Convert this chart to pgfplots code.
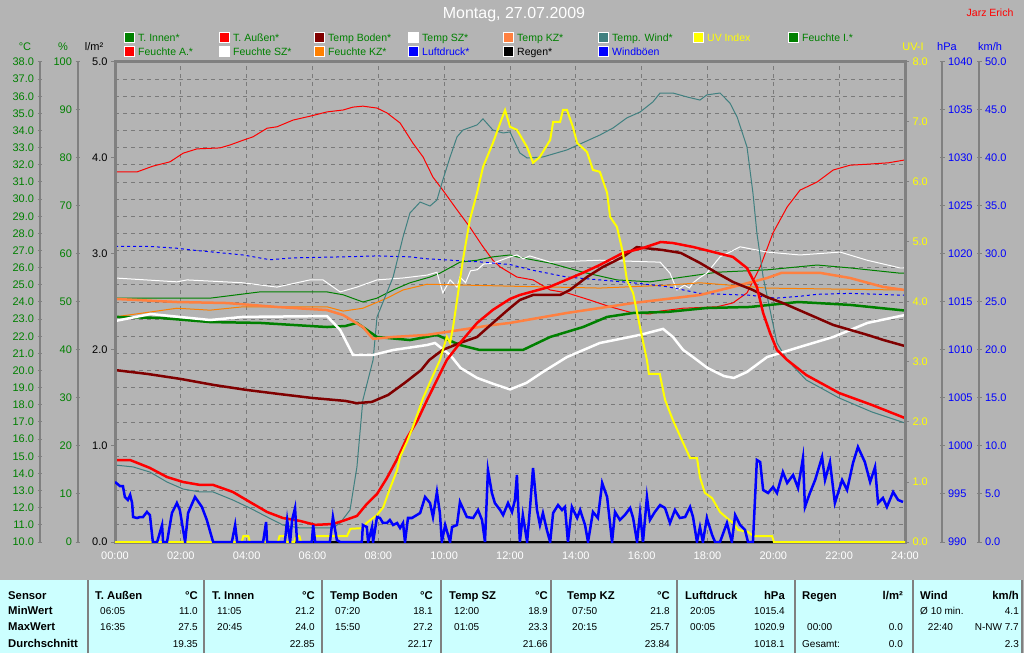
\documentclass[border=0pt]{standalone}
\usepackage{pgfplots}
\pgfplotsset{compat=1.18}
\usepackage{fontspec}
\setmainfont{Liberation Sans}

\definecolor{bgc}{HTML}{B4B4B4}
\definecolor{framec}{HTML}{808080}
\definecolor{gridc}{HTML}{7A7A7A}
\definecolor{tcyan}{HTML}{CCFFFF}
\definecolor{dgreen}{HTML}{008000}
\definecolor{maroonc}{HTML}{800000}
\definecolor{coralc}{HTML}{FF8040}
\definecolor{orangec}{HTML}{FF8000}
\definecolor{tealc}{HTML}{408080}
\definecolor{yellowc}{HTML}{FFFF00}
\definecolor{bluec}{HTML}{0000FF}
\definecolor{redc}{HTML}{FF0000}

\newcommand{\lf}{\fontsize{10.5}{12}\selectfont}
\newcommand{\tf}{\fontsize{11}{13}\selectfont}
\newcommand{\vf}{\fontsize{10}{12}\selectfont}
\newcommand{\tb}{\fontsize{11.3}{13}\selectfont\bfseries}

\pgfplotsset{
  plotarea/.style={at={(115pt,111pt)}, anchor=south west, scale only axis,
    width=790pt, height=480pt, xmin=0, xmax=24},
  scaleaxis/.style={anchor=south west, scale only axis, width=1pt, height=480pt,
    xmin=0, xmax=1, axis x line=none,
    y axis line style={-, draw=framec, line width=1.5pt},
    every non boxed y axis/.append style={y axis line style={-}},
    tick style={draw=framec, line width=1pt}, major tick length=5pt, tick align=outside,
    /pgf/number format/assume math mode=true, /pgf/number format/1000 sep={},
    yticklabel style={font=\tf}},
  hum/.style={line width=1pt, no marks},
  tmp/.style={line width=2.5pt, no marks},
}

\newcommand{\legitem}[5]{%
  \fill[#3] (#1pt-5pt,#2pt-5pt) rectangle (#1pt+5pt,#2pt+5pt);
  \draw[white, line width=0.8pt] (#1pt-5pt,#2pt-5pt) rectangle (#1pt+5pt,#2pt+5pt);
  \node[anchor=base west, text=#4, font=\lf, inner sep=0pt] at (#1pt+9pt,#2pt-4pt) {#5};}

% table column: header-left, right, header, unit, t1, v1, t2, v2, avg
\newcommand{\tcol}[9]{%
  \node[anchor=base west, font=\tb, inner sep=0pt] at (#1pt,53.3pt) {#3};
  \node[anchor=base east, font=\tb, inner sep=0pt] at (#2pt,53.3pt) {#4};
  \node[anchor=base west, font=\vf, inner sep=0pt] at (#1pt+5pt,39pt) {#5};
  \node[anchor=base east, font=\vf, inner sep=0pt] at (#2pt,39pt) {#6};
  \node[anchor=base west, font=\vf, inner sep=0pt] at (#1pt+5pt,22.3pt) {#7};
  \node[anchor=base east, font=\vf, inner sep=0pt] at (#2pt,22.3pt) {#8};
  \node[anchor=base east, font=\vf, inner sep=0pt] at (#2pt,5.7pt) {#9};}

\begin{document}
\begin{tikzpicture}
\fill[bgc] (0,0) rectangle (1024pt,653pt);
\useasboundingbox (0,0) rectangle (1024pt,653pt);

% titles
\node[text=white, font=\fontsize{16}{18}\selectfont] at (514pt,638pt) {Montag, 27.07.2009};
\node[text=redc, font=\lf] at (990pt,640pt) {Jarz Erich};

% units
\node[text=dgreen, font=\tf] at (25pt,606pt) {°C};
\node[text=dgreen, font=\tf] at (63pt,606pt) {\%};
\node[text=black, font=\tf] at (94pt,606pt) {l/m²};
\node[text=yellowc, font=\tf] at (913pt,606pt) {UV-I};
\node[text=bluec, font=\tf] at (947pt,606pt) {hPa};
\node[text=bluec, font=\tf] at (990pt,606pt) {km/h};

% legend
\legitem{129}{615.5}{dgreen}{dgreen}{T. Innen*}
\legitem{224}{615.5}{redc}{dgreen}{T. Außen*}
\legitem{319}{615.5}{maroonc}{dgreen}{Temp Boden*}
\legitem{413}{615.5}{white}{dgreen}{Temp SZ*}
\legitem{508}{615.5}{coralc}{dgreen}{Temp KZ*}
\legitem{603}{615.5}{tealc}{dgreen}{Temp. Wind*}
\legitem{698}{615.5}{yellowc}{yellowc}{UV Index}
\legitem{793}{615.5}{dgreen}{dgreen}{Feuchte I.*}
\legitem{129}{601.5}{redc}{dgreen}{Feuchte A.*}
\legitem{224}{601.5}{white}{dgreen}{Feuchte SZ*}
\legitem{319}{601.5}{orangec}{dgreen}{Feuchte KZ*}
\legitem{413}{601.5}{bluec}{bluec}{Luftdruck*}
\legitem{508}{601.5}{black}{black}{Regen*}
\legitem{603}{601.5}{bluec}{bluec}{Windböen}

% grid and frame
\begin{axis}[plotarea, ymin=10, ymax=38,
  xtick={0,2,...,24},
  xticklabels={00:00,02:00,04:00,06:00,08:00,10:00,12:00,14:00,16:00,18:00,20:00,22:00,24:00},
  xticklabel style={text=white, font=\tf, yshift=-6pt},
  ytick={10,11,...,38}, yticklabel=\empty,
  grid=major, major grid style={draw=gridc, line width=0.8pt, dash pattern=on 4pt off 4pt},
  axis line style={draw=framec, line width=3pt},
  tick style={draw=none}]
\addplot[draw=none] coordinates {(0,10) (24,38)};
\end{axis}

% humidity (%)
\begin{axis}[plotarea, ymin=0, ymax=100, hide axis]
\addplot[hum, redc] coordinates {(0,77.1) (0.67,77.1) (1.15,78.3) (1.67,79.2) (2.07,81.0) (2.49,81.9) (3.19,82.1) (3.49,82.7) (3.89,83.7) (4.19,84.4) (4.62,86.2) (4.92,86.5) (5.41,87.9) (5.92,88.7) (6.44,89.6) (6.93,90.0) (7.23,90.6) (7.53,90.8) (7.96,90.4) (8.26,89.4) (8.66,87.3) (9.05,83.1) (9.36,80.2) (9.66,76.0) (9.96,73.3) (10.39,69.2) (10.78,65.6) (11.18,61.5) (11.48,58.7) (11.7,57.3) (12.21,55.2) (12.7,54.6) (13.22,52.5) (13.73,51.9) (14.43,50.4) (15.04,49.0) (15.74,47.7) (16.25,47.5) (16.56,48.1) (17.26,48.7) (18.29,49.0) (18.77,49.8) (19.2,51.9) (19.6,57.3) (19.99,64.4) (20.42,69.8) (20.81,73.3) (21.33,75.0) (21.82,77.5) (22.33,78.5) (22.85,78.7) (23.5,79.0) (24,79.6)};
\addplot[hum, dgreen] coordinates {(0,50.8) (2.89,50.8) (4.4,52.1) (6.44,52.1) (6.93,51.5) (7.53,50.0) (7.96,50.8) (8.45,52.5) (8.96,54.0) (9.57,55.2) (9.87,56.0) (10.48,58.3) (11.0,58.7) (11.48,59.4) (12.0,59.8) (12.21,59.4) (13.22,58.1) (14.22,56.2) (15.25,54.6) (16.25,54.2) (17.26,55.2) (18.29,56.2) (19.81,56.7) (21.33,57.7) (22.33,57.1) (23.85,56.0) (24,56.0)};
\addplot[hum, white] coordinates {(0,55.0) (1.88,54.2) (2.19,54.6) (3.89,54.0) (4.92,53.1) (5.92,54.6) (6.32,54.6) (6.84,52.1) (7.35,53.1) (7.96,54.6) (8.75,55.0) (9.48,55.6) (9.78,56.2) (9.96,51.9) (10.18,54.6) (10.39,53.1) (10.48,55.2) (10.65,54.0) (10.8,56.5) (11.0,56.7) (11.2,57.9) (11.48,58.1) (12.0,59.4) (12.21,59.8) (12.4,59.0) (12.6,59.6) (13.22,58.3) (14.73,58.7) (16.56,58.3) (16.86,56.0) (17.07,52.5) (17.3,53.5) (17.45,52.9) (17.56,54.0) (17.75,55.0) (17.98,56.0) (18.38,59.4) (18.68,60.4) (18.99,61.5) (19.81,60.4) (20.81,59.8) (22.03,60.4) (22.85,58.7) (23.85,57.1) (24,57.1)};
\addplot[hum, orangec] coordinates {(0,46.9) (0.85,47.7) (1.88,48.7) (2.89,48.3) (3.89,49.0) (6.44,49.0) (6.93,48.1) (7.53,48.7) (8.26,50.8) (8.75,52.5) (9.48,53.7) (12.0,53.3) (14.73,52.9) (16.77,53.5) (17.77,54.0) (19.81,52.9) (23.85,52.5) (24,52.5)};
\end{axis}

% pressure (hPa)
\begin{axis}[plotarea, ymin=990, ymax=1040, hide axis]
\addplot[no marks, bluec, line width=1pt, dash pattern=on 3pt off 3pt] coordinates {(0,1020.8) (1.0,1020.8) (1.88,1020.6) (2.37,1020.4) (3.89,1019.9) (4.71,1019.4) (5.41,1019.6) (6.93,1019.7) (7.96,1019.8) (8.96,1019.7) (9.48,1019.5) (9.96,1019.4) (11.0,1019.2) (12.0,1018.9) (12.7,1018.3) (13.73,1017.6) (14.73,1017.3) (15.74,1017.0) (16.77,1016.6) (17.77,1015.9) (19.29,1015.7) (20.08,1015.4) (20.81,1015.6) (21.33,1015.8) (22.33,1015.9) (24,1015.7)};
\end{axis}

% temperatures (°C)
\begin{axis}[plotarea, ymin=10, ymax=38, hide axis]
\addplot[hum, tealc] coordinates {(0,14.49) (0.55,14.38) (1.06,14.08) (1.58,13.5) (2.07,13.09) (2.58,12.92) (2.98,12.92) (3.58,12.45) (4.1,11.98) (4.62,11.46) (5.1,10.99) (5.62,10.82) (6.62,10.82) (6.84,11.11) (7.14,11.87) (7.35,14.38) (7.53,18.28) (7.84,20.62) (7.96,23.13) (8.45,25.46) (8.75,27.79) (8.96,29.19) (9.27,29.83) (9.57,29.6) (9.78,29.95) (9.96,31.12) (10.18,32.46) (10.39,33.63) (10.57,34.03) (11.0,34.33) (11.18,34.68) (11.48,34.03) (11.79,33.86) (12.0,33.92) (12.3,32.69) (12.52,32.4) (13.0,32.46) (13.73,32.87) (14.73,33.74) (15.13,34.15) (15.55,34.74) (15.95,35.08) (16.34,35.67) (16.56,36.19) (16.95,36.19) (17.38,35.96) (17.77,35.78) (17.98,36.08) (18.38,36.19) (18.68,35.61) (18.9,34.79) (19.2,33.04) (19.38,30.36) (19.5,28.03) (19.69,25.46) (19.9,23.53) (20.11,21.61) (20.42,20.62) (21.0,19.45) (22.0,18.4) (23.0,17.58) (24,16.94)};
\addplot[tmp, dgreen] coordinates {(0,23.13) (1.37,23.07) (2.89,22.83) (4.4,22.78) (6.44,22.54) (7.0,22.6) (7.35,22.78) (7.96,21.96) (8.96,21.78) (9.78,22.08) (10.48,21.49) (11.08,21.2) (12.39,21.2) (13.22,21.96) (14.22,22.54) (14.95,23.13) (15.74,23.36) (16.77,23.42) (17.98,23.65) (19.29,23.71) (20.75,24.0) (21.33,23.94) (22.33,23.83) (23.85,23.53) (24,23.5)};
\addplot[tmp, white] coordinates {(0,22.89) (1.08,23.3) (2.89,22.95) (3.89,23.13) (6.44,23.18) (6.84,22.37) (7.23,20.91) (7.84,20.91) (8.45,21.2) (9.48,21.49) (9.72,21.61) (10.18,20.91) (10.5,20.15) (11.0,19.57) (11.5,19.22) (12.0,18.9) (12.5,19.28) (13.0,19.92) (13.73,20.79) (14.73,21.61) (15.95,22.08) (16.65,22.43) (16.95,21.96) (17.26,21.2) (17.56,20.79) (18.0,20.15) (18.5,19.68) (18.8,19.57) (19.2,19.92) (19.81,20.79) (20.81,21.38) (21.82,21.96) (22.86,22.78) (23.85,23.18) (24,23.24)};
\addplot[tmp, coralc] coordinates {(0,24.18) (1.88,24.0) (3.4,23.94) (4.92,23.71) (6.44,23.53) (6.93,23.24) (7.53,22.54) (7.84,21.85) (8.45,21.96) (9.48,22.08) (10.48,22.37) (11.48,22.66) (12.0,22.78) (13.73,23.36) (15.74,23.94) (17.77,24.41) (18.77,24.88) (19.81,25.4) (20.25,25.7) (21.42,25.7) (22.33,25.4) (23.33,24.88) (24,24.7)};
\addplot[tmp, maroonc] coordinates {(0,20.03) (1,19.8) (2,19.51) (3,19.16) (4,18.87) (5,18.63) (6,18.4) (7,18.23) (7.33,18.1) (7.8,18.17) (8.3,18.58) (8.8,19.28) (9.3,20.03) (9.55,20.62) (9.95,21.2) (10.48,21.61) (11.0,21.96) (11.48,22.78) (12.0,23.65) (12.3,24.12) (12.7,24.41) (13.52,24.41) (13.82,24.7) (14.34,25.46) (14.82,26.04) (15.43,26.63) (15.85,27.2) (16.65,27.03) (17.19,26.86) (17.77,26.28) (18.29,25.69) (18.77,25.17) (19.38,24.7) (19.8,24.29) (20.29,23.94) (21.33,23.07) (21.82,22.66) (22.34,22.37) (22.86,22.08) (23.35,21.78) (24,21.43)};
\addplot[tmp, redc] coordinates {(0,14.78) (0.46,14.78) (1.06,14.32) (1.58,13.79) (2.07,13.5) (2.58,13.33) (2.98,13.33) (3.58,12.92) (4.1,12.33) (4.62,11.75) (5.1,11.4) (5.62,11.23) (6.08,11.0) (6.62,11.05) (6.92,11.23) (7.35,11.52) (7.65,12.22) (7.96,12.8) (8.26,13.73) (8.57,14.84) (8.87,16.07) (9.18,17.06) (9.48,18.28) (10.08,20.62) (10.48,21.61) (11.0,22.78) (11.48,23.54) (12.0,24.18) (12.3,24.41) (13.2,24.88) (14.2,25.69) (14.73,26.16) (15.43,26.86) (16.04,27.15) (16.58,27.5) (16.95,27.44) (17.56,27.21) (18.17,26.92) (18.77,26.63) (19.2,25.98) (19.5,24.88) (19.69,23.36) (19.9,22.19) (20.11,21.2) (20.42,20.62) (21.0,19.74) (22.0,18.69) (23.0,17.99) (24,17.23)};
\end{axis}

% rain (l/m²) with left scale on the plot border
\begin{axis}[plotarea, ymin=0, ymax=5, axis x line=none, axis y line*=left,
  y axis line style={-, draw=framec, line width=3pt},
  every non boxed y axis/.append style={y axis line style={-}},
  ytick={0,1,...,5}, tick style={draw=framec, line width=1pt}, major tick length=4pt, tick align=outside,
  /pgf/number format/assume math mode=true, /pgf/number format/fixed, /pgf/number format/fixed zerofill,
  /pgf/number format/precision=1, yticklabel style={font=\tf, text=black}]
\addplot[no marks, black, line width=2.5pt] coordinates {(0,0) (24,0)};
\end{axis}

% UV index with right scale on the plot border
\begin{axis}[plotarea, ymin=0, ymax=8, axis x line=none, axis y line*=right,
  y axis line style={-, draw=framec, line width=3pt},
  every non boxed y axis/.append style={y axis line style={-}},
  ytick={0,1,...,8}, tick style={draw=framec, line width=1pt}, major tick length=4pt, tick align=outside,
  /pgf/number format/assume math mode=true, /pgf/number format/fixed, /pgf/number format/fixed zerofill,
  /pgf/number format/precision=1, yticklabel style={font=\tf, text=yellowc}]
\addplot[no marks, yellowc, line width=2pt] coordinates {(0,0) (3.85,0) (3.9,0.1) (4.05,0.1) (4.1,0) (4.95,0) (5.0,0.1) (5.15,0.1) (5.2,0) (5.45,0) (5.5,0.1) (5.6,0.1) (5.65,0) (5.98,0) (6.02,0.1) (7.05,0.1) (7.15,0.22) (7.5,0.23) (7.65,0.32) (7.96,0.45) (8.15,0.58) (8.26,0.75) (8.36,0.9) (8.57,1.2) (8.66,1.42) (8.87,1.67) (9.05,1.92) (9.2,2.15) (9.36,2.4) (9.6,2.7) (9.87,3.03) (9.96,3.2) (10.08,3.42) (10.18,3.32) (10.27,3.58) (10.57,4.7) (10.78,5.37) (11.0,5.82) (11.18,6.25) (11.48,6.65) (11.7,6.98) (11.85,7.2) (12.0,6.92) (12.21,6.87) (12.52,6.58) (12.7,6.32) (12.91,6.42) (13.22,6.7) (13.31,7.0) (13.52,7.0) (13.61,7.2) (13.73,7.2) (13.91,6.92) (14.04,6.65) (14.34,6.5) (14.52,6.2) (14.73,6.17) (14.95,5.82) (15.04,5.42) (15.25,5.25) (15.43,4.82) (15.55,4.37) (15.74,4.15) (15.95,3.58) (16.16,3.03) (16.22,2.8) (16.55,2.8) (16.71,2.37) (16.95,2.03) (17.22,1.7) (17.47,1.4) (17.68,1.4) (17.77,1.08) (17.92,0.82) (18.14,0.73) (18.38,0.5) (18.59,0.4) (18.77,0.32) (18.93,0.2) (19.23,0.17) (19.38,0.1) (19.96,0.1) (20.02,0) (24,0)};
\end{axis}

% gusts (km/h)
\begin{axis}[plotarea, ymin=0, ymax=50, hide axis]
\addplot[no marks, bluec, line width=2.5pt] coordinates {(0,6.25) (0.15,5.83) (0.24,5.83) (0.3,4.69) (0.39,4.38) (0.46,4.9) (0.52,4.06) (0.55,2.6) (0.67,2.5) (0.76,2.6) (0.85,2.6) (0.97,3.13) (1.06,2.81) (1.15,0) (1.28,0) (1.43,1.77) (1.46,0) (1.58,0) (1.73,3.02) (1.88,4.06) (1.97,3.33) (2.13,0) (2.22,3.02) (2.43,4.69) (2.64,3.65) (2.79,2.29) (2.98,0) (3.55,0) (3.65,1.77) (3.71,0) (4.5,0) (4.59,2.08) (4.62,0) (5.16,0) (5.23,2.29) (5.32,0) (5.38,2.29) (5.47,3.54) (5.53,0) (5.98,0) (6.02,1.77) (6.08,0) (6.53,0) (6.62,2.6) (6.74,0.2) (6.84,0) (7.5,0) (7.53,1.77) (7.65,1.56) (7.69,0) (7.81,1.56) (7.84,0) (7.96,2.6) (8.05,2.5) (8.14,1.98) (8.26,1.98) (8.35,2.29) (8.45,1.77) (8.57,1.98) (8.66,1.46) (8.75,1.98) (8.81,0) (8.9,2.5) (9.02,2.5) (9.27,3.02) (9.42,4.69) (9.57,4.06) (9.66,2.6) (9.78,5.21) (9.87,3.02) (9.93,0) (10.03,1.77) (10.18,0) (10.24,1.56) (10.39,1.77) (10.48,4.17) (10.69,2.6) (10.88,2.5) (11.03,3.33) (11.15,2.29) (11.24,0) (11.33,7.5) (11.45,5.1) (11.54,4.06) (11.7,3.33) (11.79,2.81) (11.94,4.06) (12.06,3.13) (12.15,4.38) (12.21,6.98) (12.24,4.38) (12.3,0) (12.39,2.81) (12.52,0) (12.61,3.65) (12.7,7.71) (12.82,3.33) (12.91,1.77) (13.0,3.02) (13.12,1.25) (13.22,0) (13.31,3.02) (13.46,3.85) (13.58,3.33) (13.67,3.65) (13.76,0) (13.88,3.65) (14.04,2.5) (14.13,3.33) (14.28,1.77) (14.37,0) (14.52,3.13) (14.67,2.5) (14.8,6.15) (14.95,4.69) (15.1,0) (15.19,3.13) (15.34,2.29) (15.49,2.81) (15.65,3.54) (15.74,2.5) (15.86,0) (15.95,3.02) (16.04,0) (16.16,4.69) (16.25,2.29) (16.4,3.13) (16.56,3.85) (16.71,3.54) (16.86,1.98) (17.01,3.33) (17.16,2.5) (17.32,2.6) (17.47,3.65) (17.56,2.6) (17.68,0) (17.77,1.56) (17.86,0) (17.98,2.5) (18.14,0.73) (18.23,0) (18.38,0) (18.59,1.98) (18.74,0) (18.84,2.81) (18.99,1.77) (19.14,1.25) (19.23,0) (19.38,0) (19.5,8.54) (19.6,8.33) (19.69,5.42) (19.84,5.1) (19.99,5.73) (20.11,5.1) (20.29,7.29) (20.42,6.15) (20.6,6.98) (20.75,5.63) (20.9,8.75) (20.96,3.65) (21.11,5.1) (21.27,6.46) (21.48,8.85) (21.57,6.46) (21.72,8.33) (21.87,4.06) (22.09,6.46) (22.24,5.42) (22.42,8.23) (22.57,9.9) (22.78,8.33) (22.94,6.25) (23.09,7.81) (23.18,4.06) (23.33,4.58) (23.45,3.65) (23.64,5.21) (23.79,4.38) (23.94,4.17)};
\end{axis}

% outer scales
\begin{axis}[scaleaxis, at={(40pt,111pt)}, ymin=10, ymax=38, axis y line=left,
  ytick={10,11,...,38}, yticklabel style={text=dgreen},
  /pgf/number format/fixed, /pgf/number format/fixed zerofill, /pgf/number format/precision=1]
\addplot[draw=none] coordinates {(0,10) (1,38)};
\end{axis}
\begin{axis}[scaleaxis, at={(78pt,111pt)}, ymin=0, ymax=100, axis y line=left,
  ytick={0,10,...,100}, yticklabel style={text=dgreen}]
\addplot[draw=none] coordinates {(0,0) (1,100)};
\end{axis}
\begin{axis}[scaleaxis, at={(941pt,111pt)}, ymin=990, ymax=1040, axis y line=right,
  ytick={990,995,...,1040}, yticklabel style={text=bluec}, tick align=center]
\addplot[draw=none] coordinates {(0,990) (1,1040)};
\end{axis}
\begin{axis}[scaleaxis, at={(978pt,111pt)}, ymin=0, ymax=50, axis y line=right,
  ytick={0,5,...,50}, yticklabel style={text=bluec}, tick align=center,
  /pgf/number format/fixed, /pgf/number format/fixed zerofill, /pgf/number format/precision=1]
\addplot[draw=none] coordinates {(0,0) (1,50)};
\end{axis}

% statistics table
\fill[tcyan] (0,0) rectangle (1022pt,73pt);
\foreach \sx in {88,204,322,441,551,677,795,913,1022}
  \draw[framec, line width=2pt] (\sx pt,0) -- (\sx pt,73pt);
\node[anchor=base west, font=\tb, inner sep=0pt] at (8pt,53.3pt) {Sensor};
\node[anchor=base west, font=\tb, inner sep=0pt] at (8pt,39pt) {MinWert};
\node[anchor=base west, font=\tb, inner sep=0pt] at (8pt,22.3pt) {MaxWert};
\node[anchor=base west, font=\tb, inner sep=0pt] at (8pt,5.7pt) {Durchschnitt};
\tcol{95}{198}{T. Außen}{°C}{06:05}{11.0}{16:35}{27.5}{19.35}
\tcol{212}{315}{T. Innen}{°C}{11:05}{21.2}{20:45}{24.0}{22.85}
\tcol{330}{433}{Temp Boden}{°C}{07:20}{18.1}{15:50}{27.2}{22.17}
\tcol{449}{548}{Temp SZ}{°C}{12:00}{18.9}{01:05}{23.3}{21.66}
\tcol{567}{670}{Temp KZ}{°C}{07:50}{21.8}{20:15}{25.7}{23.84}
\tcol{685}{785}{Luftdruck}{hPa}{20:05}{1015.4}{00:05}{1020.9}{1018.1}
\tcol{802}{903}{Regen}{l/m²}{}{}{00:00}{0.0}{0.0}
\node[anchor=base west, font=\vf, inner sep=0pt] at (802pt,5.7pt) {Gesamt:};
\tcol{920}{1019}{Wind}{km/h}{}{4.1}{\ 22:40}{N-NW 7.7}{2.3}
\node[anchor=base west, font=\vf, inner sep=0pt] at (920pt,39pt) {Ø 10 min.};
\end{tikzpicture}
\end{document}
